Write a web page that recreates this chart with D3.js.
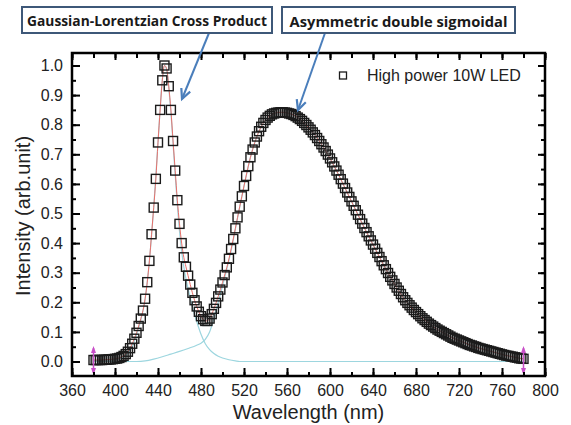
<!DOCTYPE html>
<html><head><meta charset="utf-8">
<script src="https://cdn.jsdelivr.net/npm/d3@7"></script>
<style>body{margin:0;background:#fff}svg{display:block}</style>
</head><body>
<script>
// ---------- DATA ----------
const startWavelength = 380;
const stepNm = 2;
// measured spectrum (squares), 380..780 nm every 2 nm
const intensity = [
0.005,0.005,0.005,0.005,0.005,0.006,0.006,0.007,0.007,0.008,
0.009,0.010,0.012,0.015,0.019,0.025,0.033,0.045,0.060,0.077,
0.097,0.120,0.145,0.172,0.212,0.268,0.340,0.430,0.520,0.617,
0.740,0.850,0.950,1.000,0.990,0.930,0.850,0.745,0.645,0.545,
0.465,0.400,0.352,0.320,0.290,0.260,0.232,0.207,0.186,0.168,
0.153,0.143,0.137,0.137,0.145,0.160,0.178,0.198,0.220,0.243,
0.267,0.292,0.318,0.347,0.380,0.414,0.450,0.487,0.523,0.558,
0.593,0.627,0.660,0.690,0.716,0.740,0.760,0.778,0.793,0.806,
0.816,0.824,0.830,0.835,0.838,0.840,0.841,0.842,0.842,0.841,
0.840,0.838,0.836,0.833,0.829,0.824,0.819,0.813,0.806,0.799,
0.791,0.783,0.774,0.765,0.755,0.745,0.734,0.723,0.711,0.699,
0.686,0.673,0.659,0.645,0.631,0.616,0.601,0.586,0.571,0.556,
0.541,0.526,0.511,0.496,0.481,0.466,0.451,0.437,0.423,0.409,
0.395,0.381,0.367,0.353,0.339,0.325,0.312,0.299,0.286,0.274,
0.262,0.250,0.239,0.228,0.217,0.207,0.198,0.190,0.182,0.174,
0.167,0.160,0.153,0.146,0.140,0.134,0.128,0.123,0.118,0.113,
0.108,0.104,0.100,0.096,0.092,0.088,0.084,0.080,0.077,0.074,
0.071,0.068,0.065,0.062,0.059,0.056,0.054,0.051,0.049,0.046,
0.044,0.042,0.040,0.038,0.036,0.034,0.032,0.030,0.028,0.026,
0.024,0.022,0.020,0.019,0.017,0.016,0.014,0.013,0.011,0.010,
0.009];
// Gaussian-Lorentzian component (blue chip)
const blueFitNm  = [380,400,410,416,420,424,428,432,436,440,444,446,448,452,456,460,464,468,472,476,480,484,488,492,496,500,506,512,516,780];
const blueFitVal = [0.003,0.006,0.02,0.05,0.09,0.14,0.21,0.34,0.52,0.74,0.95,1.0,0.985,0.84,0.63,0.44,0.32,0.245,0.185,0.135,0.092,0.06,0.04,0.027,0.018,0.012,0.006,0.002,0,0];
// Asymmetric double sigmoidal component (phosphor)
const greenFitNm  = [380,420,428,436,444,452,460,468,476,480,484,488,492,496,500,504,508,512,516,520,526,532,540,550,556,566,580,600,620,640,660,680,700,720,740,760,780];
const greenFitVal = [0,0,0.002,0.008,0.016,0.025,0.034,0.044,0.055,0.062,0.075,0.1,0.145,0.2,0.255,0.312,0.374,0.448,0.521,0.592,0.69,0.76,0.816,0.84,0.842,0.833,0.791,0.686,0.541,0.395,0.262,0.167,0.108,0.071,0.044,0.024,0.009];
const xMajorTicks = [360,400,440,480,520,560,600,640,680,720,760,800];
const yMajorTicks = [0,0.1,0.2,0.3,0.4,0.5,0.6,0.7,0.8,0.9,1.0];
const rangeMarkers = [380,780];
const legendLabel = "High power 10W LED";
const xTitle = "Wavelength (nm)";
const yTitle = "Intensity (arb.unit)";
const callouts = ["Gaussian-Lorentzian Cross Product","Asymmetric double sigmoidal"];

// ---------- LAYOUT ----------
const W = 571, H = 425;
const fr = {left:72, right:545, top:53, bottom:376};
const svg = d3.select("body").append("svg").attr("width",W).attr("height",H)
  .style("font-family","'Liberation Sans', Arial, sans-serif");
const x = d3.scaleLinear().domain([360,800]).range([fr.left, fr.right]);
const y = d3.scaleLinear().domain([0,1]).range([361.5,65.5]);

const wavelengths = intensity.map((_,i)=>startWavelength+i*stepNm);
const pts = wavelengths.map((w,i)=>({w, v:intensity[i]}));

// component lines (cyan)
const line = d3.line().x(d=>x(d[0])).y(d=>y(d[1])).curve(d3.curveMonotoneX);
const cyan = "#9dd6df";
svg.append("path").attr("d", line(blueFitNm.map((w,i)=>[w,blueFitVal[i]])))
  .attr("fill","none").attr("stroke",cyan).attr("stroke-width",1.2);
svg.append("path").attr("d", line(greenFitNm.map((w,i)=>[w,greenFitVal[i]])))
  .attr("fill","none").attr("stroke",cyan).attr("stroke-width",1.2);

// red fit line through data
svg.append("path").attr("d", d3.line().x(d=>x(d.w)).y(d=>y(d.v)).curve(d3.curveMonotoneX)(pts))
  .attr("fill","none").attr("stroke","#e8706a").attr("stroke-width",1);

// squares
const s = 9;
svg.append("g").selectAll("rect").data(pts).join("rect")
  .attr("x",d=>x(d.w)-s/2).attr("y",d=>y(d.v)-s/2)
  .attr("width",s).attr("height",s)
  .attr("fill","none").attr("stroke","#1b1b1b").attr("stroke-width",1.4);

// range markers (magenta)
const mg = svg.append("g");
rangeMarkers.forEach(w=>{
  const cx = x(w);
  mg.append("line").attr("x1",cx).attr("x2",cx).attr("y1",348).attr("y2",373)
    .attr("stroke","#c84fc8").attr("stroke-width",1.5);
  mg.append("path").attr("d",`M${cx-2.5},${353}L${cx},${346}L${cx+2.5},${353}Z`).attr("fill","#c84fc8");
  mg.append("path").attr("d",`M${cx-2.5},${368}L${cx},${375}L${cx+2.5},${368}Z`).attr("fill","#c84fc8");
});

// axes
const xMinor = d3.range(360,801,20);
const yMinor = d3.range(0,1.0001,0.05).filter(v=>y(v)>=fr.top);
function styleAxis(g){
  g.select(".domain").remove();
  g.selectAll(".tick line").attr("stroke","#000").attr("stroke-width",2);
  g.selectAll(".tick text").attr("fill","#222").style("font-size","16px")
   .style("font-family","'Liberation Sans', Arial, sans-serif");
}
// bottom
svg.append("g").attr("transform",`translate(0,${fr.bottom})`)
  .call(d3.axisBottom(x).tickValues(xMinor).tickSize(-4).tickFormat("")).call(styleAxis);
svg.append("g").attr("transform",`translate(0,${fr.bottom})`)
  .call(d3.axisBottom(x).tickValues(xMajorTicks).tickSize(-8).tickPadding(9).tickFormat(d3.format("d"))).call(styleAxis);
// top
svg.append("g").attr("transform",`translate(0,${fr.top})`)
  .call(d3.axisTop(x).tickValues(xMinor).tickSize(-5).tickFormat("")).call(styleAxis);
svg.append("g").attr("transform",`translate(0,${fr.top})`)
  .call(d3.axisTop(x).tickValues(xMajorTicks).tickSize(-7).tickFormat("")).call(styleAxis);
// left
svg.append("g").attr("transform",`translate(${fr.left},0)`)
  .call(d3.axisLeft(y).tickValues(yMinor).tickSize(-4).tickFormat("")).call(styleAxis);
svg.append("g").attr("transform",`translate(${fr.left},0)`)
  .call(d3.axisLeft(y).tickValues(yMajorTicks).tickSize(-8).tickPadding(9).tickFormat(d3.format(".1f"))).call(styleAxis);
// right
svg.append("g").attr("transform",`translate(${fr.right},0)`)
  .call(d3.axisRight(y).tickValues(yMinor).tickSize(-4).tickFormat("")).call(styleAxis);
svg.append("g").attr("transform",`translate(${fr.right},0)`)
  .call(d3.axisRight(y).tickValues(yMajorTicks).tickSize(-7).tickFormat("")).call(styleAxis);

// frame
svg.append("rect").attr("x",fr.left).attr("y",fr.top)
  .attr("width",fr.right-fr.left).attr("height",fr.bottom-fr.top)
  .attr("fill","none").attr("stroke","#000").attr("stroke-width",2.5);

// titles
svg.append("text").attr("x",(fr.left+fr.right)/2).attr("y",419)
  .attr("text-anchor","middle").attr("fill","#222").style("font-size","20px").text(xTitle);
svg.append("text").attr("transform",`translate(30,216) rotate(-90)`)
  .attr("text-anchor","middle").attr("fill","#222").style("font-size","20px").text(yTitle);

// legend
svg.append("rect").attr("x",343-3.5).attr("y",75.5-3.5).attr("width",7).attr("height",7)
  .attr("fill","none").attr("stroke","#1b1b1b").attr("stroke-width",1.3);
svg.append("text").attr("x",367).attr("y",81).attr("fill","#222").style("font-size","16px").text(legendLabel);

// callouts
const boxes = [{x0:22,x1:272,tw:240},{x0:282,x1:515,tw:218}];
const arrows = [{x1:209,y1:33,x2:182,y2:99},{x1:325,y1:33,x2:298,y2:110}];
const blue = "#4a7ebb";
arrows.forEach(a=>{
  svg.append("line").attr("x1",a.x1).attr("y1",a.y1).attr("x2",a.x2).attr("y2",a.y2)
    .attr("stroke",blue).attr("stroke-width",2);
  const ang = Math.atan2(a.y2-a.y1,a.x2-a.x1), L=11, sp=0.45;
  const p1=[a.x2-L*Math.cos(ang-sp), a.y2-L*Math.sin(ang-sp)];
  const p2=[a.x2-L*Math.cos(ang+sp), a.y2-L*Math.sin(ang+sp)];
  svg.append("path").attr("d",`M${p1}L${a.x2},${a.y2}L${p2}`)
    .attr("fill","none").attr("stroke",blue).attr("stroke-width",2.2).attr("stroke-linejoin","miter");
});
boxes.forEach((b,i)=>{
  svg.append("rect").attr("x",b.x0).attr("y",7).attr("width",b.x1-b.x0).attr("height",26)
    .attr("fill","#fff").attr("stroke","#3e5878").attr("stroke-width",2);
  const t = svg.append("text").attr("x",(b.x0+b.x1)/2).attr("y",20.5)
    .attr("text-anchor","middle").attr("dominant-baseline","central")
    .attr("fill","#1a1a1a").style("font-family","'Open Sans', sans-serif").style("font-weight","bold")
    .style("font-size","14px").text(callouts[i]);
  const len = t.node().getComputedTextLength();
  t.style("font-size",(14*b.tw/len).toFixed(2)+"px");
});
</script>
</body></html>
